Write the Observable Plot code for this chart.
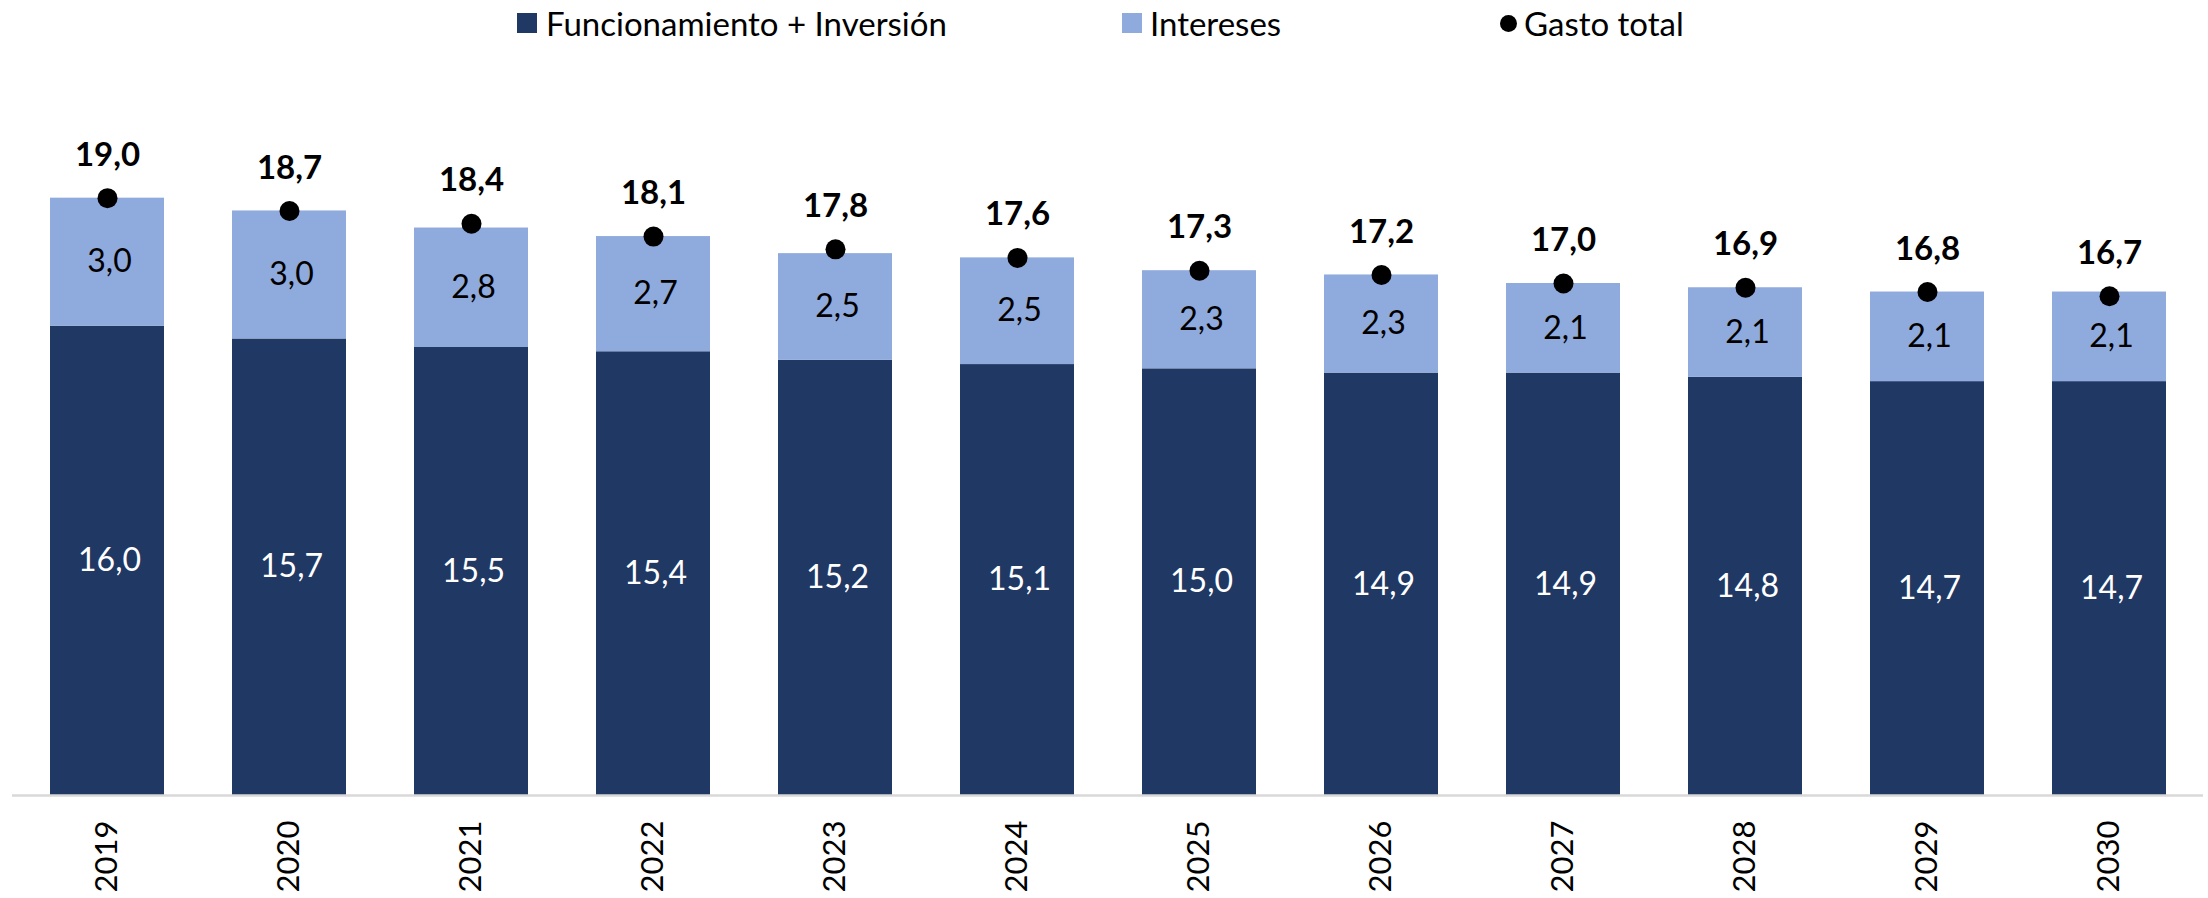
<!DOCTYPE html>
<html>
<head>
<meta charset="utf-8">
<script src="https://cdn.jsdelivr.net/npm/d3@7"></script>
<script src="https://cdn.jsdelivr.net/npm/@observablehq/plot@0.6"></script>
<style>
  body { margin: 0; background: #fff; font-family: Lato, "Open Sans", sans-serif; }
  #legend { position: relative; width: 2208px; height: 50px; }
  #legend .sw { position: absolute; top: 13px; width: 20px; height: 20px; }
  #legend .dot { position: absolute; top: 15px; width: 17px; height: 17px; border-radius: 50%; background: #000; }
  #legend .lb { position: absolute; top: 0; height: 46px; line-height: 46px; font-size: 33px; color: #000; white-space: nowrap; }
</style>
</head>
<body>
<div id="legend"></div>
<div id="chart"></div>
<script>
const years = ["2019","2020","2021","2022","2023","2024","2025","2026","2027","2028","2029","2030"];
const funcInv = [16.0, 15.7, 15.5, 15.4, 15.2, 15.1, 15.0, 14.9, 14.9, 14.8, 14.7, 14.7];
const intereses = [3.0, 3.0, 2.8, 2.7, 2.5, 2.5, 2.3, 2.3, 2.1, 2.1, 2.1, 2.1];
const gastoTotal = [19.0, 18.7, 18.4, 18.1, 17.8, 17.6, 17.3, 17.2, 17.0, 16.9, 16.8, 16.7];
const seriesNames = ["Funcionamiento + Inversión", "Intereses", "Gasto total"];
const colors = ["#203864", "#8FAADC", "#000000"];
const yMin = 5;

const fmt = v => v.toFixed(1).replace(".", ",");

// Legend
const legend = document.getElementById("legend");
legend.innerHTML = `
  <div class="sw" style="left:517px;background:${colors[0]}"></div>
  <div class="lb" style="left:546px">${seriesNames[0]}</div>
  <div class="sw" style="left:1122px;background:${colors[1]}"></div>
  <div class="lb" style="left:1150px">${seriesNames[1]}</div>
  <div class="dot" style="left:1500px"></div>
  <div class="lb" style="left:1524px">${seriesNames[2]}</div>`;

const data = years.map((y, i) => ({
  year: y,
  fi: funcInv[i],
  int: intereses[i],
  total: gastoTotal[i]
}));

const chart = Plot.plot({
  width: 2208,
  height: 848,
  marginLeft: 12,
  marginRight: 5,
  marginTop: 105,
  marginBottom: 103,
  style: { fontFamily: "Lato, 'Open Sans', sans-serif", background: "#fff" },
  x: { domain: years, paddingInner: 0.375, paddingOuter: 0.1875, axis: null },
  y: { domain: [yMin, 20], axis: null },
  marks: [
    Plot.barY(data, { x: "year", y1: () => yMin, y2: "fi", fill: colors[0] }),
    Plot.barY(data, { x: "year", y1: "fi", y2: d => d.fi + d.int, fill: colors[1] }),
    Plot.ruleY([yMin], { stroke: "#d9d9d9", strokeWidth: 2.5 }),
    Plot.text(data, { x: "year", y: d => (yMin + d.fi) / 2, text: d => fmt(d.fi), fill: "#fff", fontSize: 32, dx: 2 }),
    Plot.text(data, { x: "year", y: d => d.fi + d.int / 2, text: d => fmt(d.int), fill: "#000", fontSize: 32, dx: 2 }),
    Plot.dot(data, { x: "year", y: "total", r: 10, fill: colors[2] }),
    Plot.text(data, { x: "year", y: "total", text: d => fmt(d.total), fill: "#000", fontSize: 33, fontWeight: "bold", dy: -43 }),
    Plot.text(data, { x: "year", y: () => yMin, text: "year", rotate: -90, textAnchor: "end", dy: 25, fontSize: 31, fill: "#000" })
  ]
});
document.getElementById("chart").appendChild(chart);
</script>
</body>
</html>
